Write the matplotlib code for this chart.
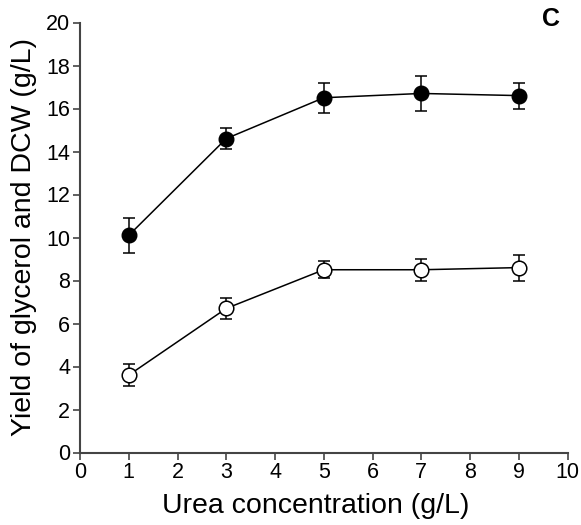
import matplotlib
matplotlib.use("Agg")
import matplotlib.pyplot as plt

x = [1, 3, 5, 7, 9]
dcw = [10.1, 14.6, 16.5, 16.7, 16.6]
dcw_err = [0.8, 0.5, 0.7, 0.8, 0.6]
glycerol = [3.6, 6.7, 8.5, 8.5, 8.6]
glycerol_err = [0.5, 0.5, 0.4, 0.5, 0.6]
xticks = list(range(0, 11))
yticks = list(range(0, 21, 2))

plt.rcParams['font.family'] = ['Liberation Sans', 'DejaVu Sans']
fig = plt.figure(figsize=(5.81, 5.25), dpi=100)
ax = fig.add_axes([80/581, 1-452.5/525, 487.5/581, 430/525])

ax.errorbar(x, dcw, yerr=dcw_err, color='black', marker='o', markersize=10.5,
            markerfacecolor='black', linewidth=1.1, elinewidth=1.1, capsize=4, capthick=1.1)
ax.errorbar(x, glycerol, yerr=glycerol_err, color='black', marker='o', markersize=10.5,
            markerfacecolor='white', markeredgewidth=1.1, linewidth=1.1, elinewidth=1.1,
            capsize=4, capthick=1.1)

ax.set_xlim(0, 10)
ax.set_ylim(0, 20)
ax.set_xticks(xticks)
ax.set_yticks(yticks)
ax.tick_params(labelsize=15.5, length=5, width=1.2, color='#444444', direction='out', pad=2)
for s in ['top', 'right']:
    ax.spines[s].set_visible(False)
for s in ['left', 'bottom']:
    ax.spines[s].set_linewidth(1.5)
    ax.spines[s].set_color('#444444')
ax.set_xlabel('Urea concentration (g/L)', fontsize=20.5)
ax.set_ylabel('Yield of glycerol and DCW (g/L)', fontsize=20.5)
ax.xaxis.set_label_coords((316 - 80) / 487.5, -(506 - 452.5) / 430)
ax.yaxis.set_label_coords(-(80 - 24) / 487.5, (452.5 - 237) / 430)
ax.xaxis.label.set_va('center')
ax.yaxis.label.set_va('center')
fig.text(542/581, 1 - 19/525, 'C', fontsize=18, fontweight='bold', va='center', ha='left')

fig.savefig('out.png', dpi=100)
